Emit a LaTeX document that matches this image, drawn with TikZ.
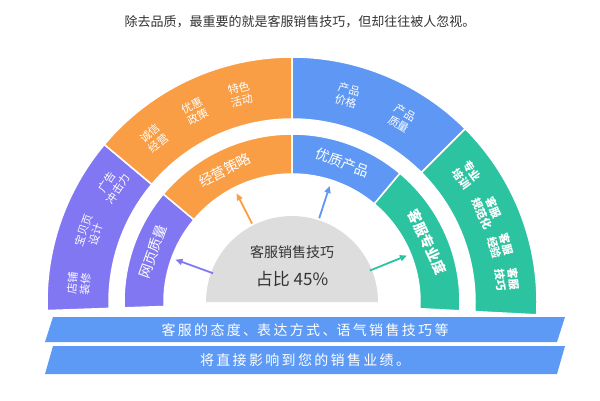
\documentclass[tikz,border=0pt]{standalone}
\usepackage{fontspec}
\setmainfont{Noto Sans CJK SC}
\usetikzlibrary{arrows.meta}
\definecolor{pu}{HTML}{8277F3}
\definecolor{orr}{HTML}{FA9E45}
\definecolor{bl}{HTML}{5E98F4}
\definecolor{gr}{HTML}{2CC3A0}
\definecolor{gy}{HTML}{DDDDDD}
\definecolor{bn}{HTML}{5C9AF5}
\newcommand\mysect[5]{\fill[#5,draw=white,line width=1.5pt] (#1:#3) -- (#1:#4) arc[start angle=#1,end angle=#2,radius=#4] -- (#2:#3) arc[start angle=#2,end angle=#1,radius=#3] -- cycle;}
\tikzset{olab/.style={text=white,font=\fontsize{11}{13}\selectfont,align=center,inner sep=1pt},
ilab/.style={text=white,font=\fontsize{14}{15}\selectfont},
arr/.style={-{Triangle[length=7pt,width=6pt]},line width=1.8pt},
banner/.style={fill=bn},
btext/.style={text=white,font=\fontsize{14}{15}\selectfont}}
\begin{document}
\begin{tikzpicture}[x=1pt,y=1pt]
\useasboundingbox (0,0) rectangle (600,400);
\node[text=black!80,font=\fontsize{13}{14}\selectfont] (title) at (300,378) {除去品质，最重要的就是客服销售技巧，但却往往被人忽视。};
\begin{scope}[shift={(292,98)}]
\mysect{140}{182}{183}{245}{pu}
\mysect{90}{140}{183}{245}{orr}
\mysect{45}{90}{183}{245}{bl}
\mysect{-3}{45}{183}{245}{gr}
\mysect{140}{182}{128}{168}{pu}
\mysect{90}{140}{128}{168}{orr}
\mysect{50}{90}{128}{168}{bl}
\mysect{-3}{50}{128}{168}{gr}
\fill[gy] (-86,0) arc[start angle=180,end angle=0,radius=86] -- cycle;
\node[text=black!80,font=\fontsize{14}{15}\selectfont] (c1) at (0,50) {客服销售技巧};
\node[text=black!80,font=\fontsize{17}{18}\selectfont] (c2) at (0,23) {占比 45\%};
\foreach \n/\a/\t in {l1/175/店铺\\装修,l2/161/宝贝页\\设计,l3/147/广告\\冲击力,l4/130/诚信\\经营,l5/117/优惠\\政策,l6/104/特色\\活动,l7/75/产品\\价格,l8/59/产品\\质量}
  \node[olab,rotate=\a-90] (\n) at (\a:214) {\t};
\foreach \n/\a/\t in {g1/36/专业\\培训,g2/25/客服\\规范化,g3/15/客服\\经验,g4/6/客服\\技巧}
  \node[olab,font=\fontsize{11}{13}\selectfont\bfseries,rotate=\a-90] (\n) at (\a:216) {\t};
\node[ilab,rotate=70] (i1) at (160:148) {网页质量};
\node[ilab,rotate=27] (i2) at (117:148) {经营策略};
\node[ilab,rotate=-21] (i3) at (70:148) {优质产品};
\node[ilab,font=\fontsize{14}{15}\selectfont\bfseries,rotate=-65] (i4) at (24:148) {客服专业度};
\coordinate (s1) at (160:84); \coordinate (e1) at (160:124);
\coordinate (s2) at (117:88); \coordinate (e2) at (117:122);
\coordinate (s3) at (72:88); \coordinate (e3) at (72:122);
\coordinate (s4) at (22:84); \coordinate (e4) at (22:124);
\draw[arr,pu] (s1) -- (e1);
\draw[arr,orr] (s2) -- (e2);
\draw[arr,bl] (s3) -- (e3);
\draw[arr,gr] (s4) -- (e4);
\end{scope}
\fill[banner] (53,83) -- (565,83) -- (557,58) -- (45,58) -- cycle;
\fill[banner] (53,54) -- (565,54) -- (557,26) -- (45,26) -- cycle;
\node[btext] (b1) at (305,70) {客\,服\,的\,态\,度\,、表\,达\,方\,式\,、语\,气\,销\,售\,技\,巧\,等};
\node[btext] (b2) at (305,40) {将\,直\,接\,影\,响\,到\,您\,的\,销\,售\,业\,绩\,。};
\end{tikzpicture}
\end{document}
